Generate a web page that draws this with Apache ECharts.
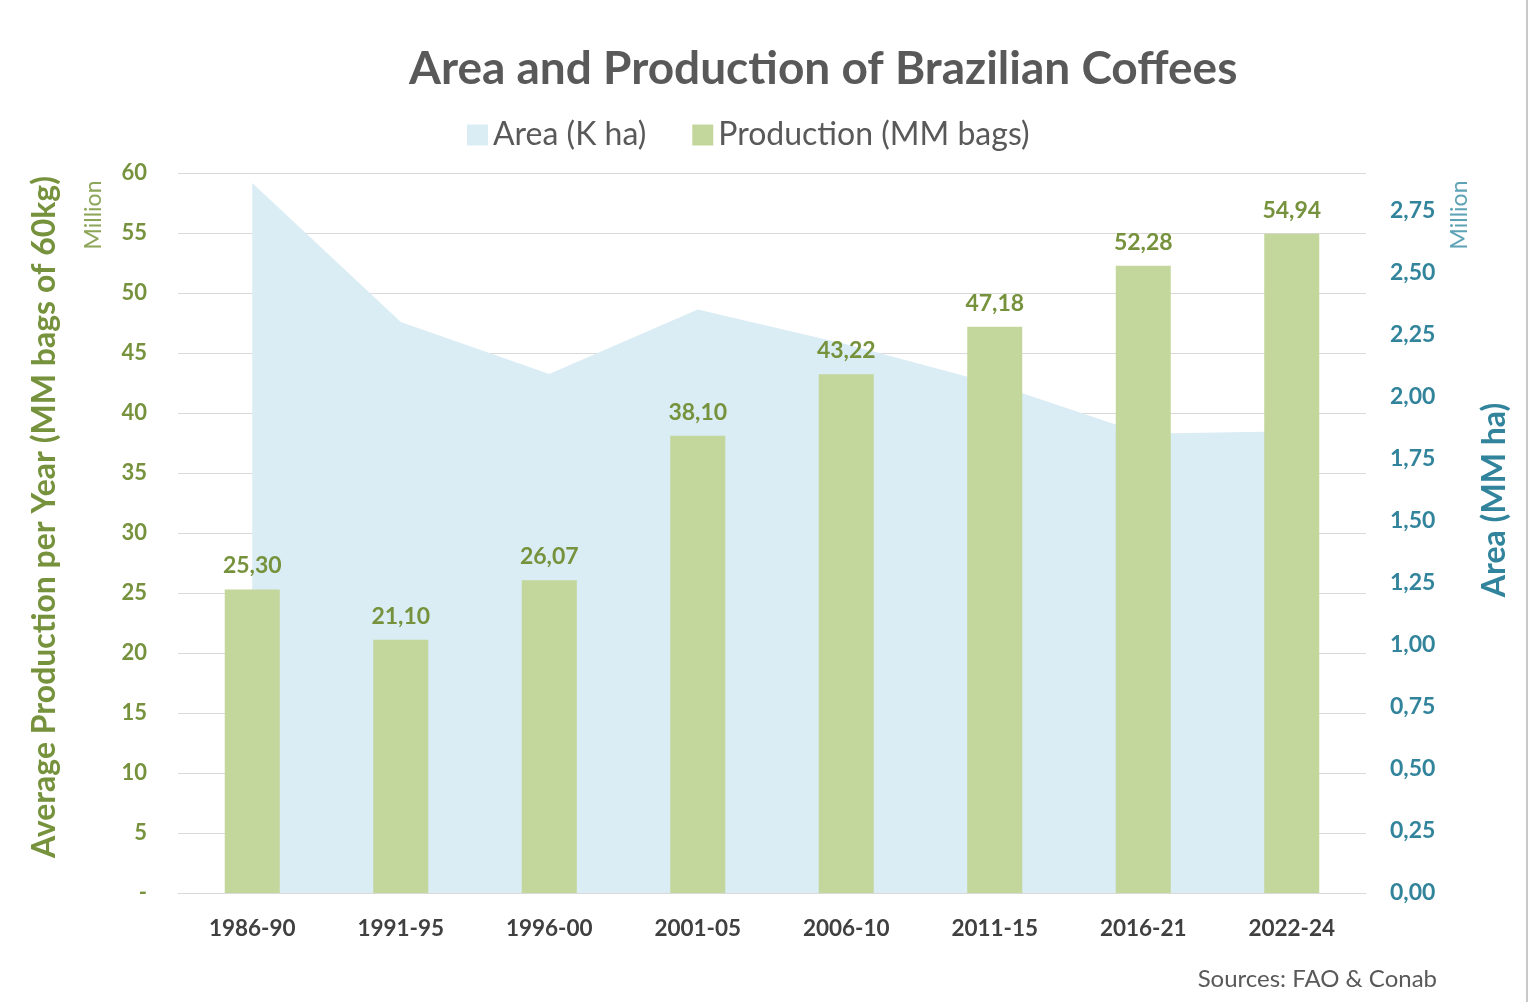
<!DOCTYPE html>
<html>
<head>
<meta charset="utf-8">
<title>Area and Production of Brazilian Coffees</title>
<script src="https://cdn.jsdelivr.net/npm/echarts@6/dist/echarts.min.js"></script>
<style>
  html, body { margin: 0; padding: 0; background: #fff; }
  #chart { width: 1532px; height: 1002px; }
</style>
</head>
<body>
<div id="chart"></div>
<script>
// periods on the x axis
const periods = ['1986-90', '1991-95', '1996-00', '2001-05', '2006-10', '2011-15', '2016-21', '2022-24'];
// average production per year, million 60kg bags
const production = [25.30, 21.10, 26.07, 38.10, 43.22, 47.18, 52.28, 54.94];
// harvested area, million ha
const area = [2.86, 2.30, 2.09, 2.35, 2.21, 2.05, 1.85, 1.86];

const green = '#76923c';
const teal = '#31849b';
const font = 'Lato, "Open Sans", sans-serif';

const chart = echarts.init(document.getElementById('chart'));

// decimal comma, like the original
function comma(v, d) {
  return v.toFixed(d).replace('.', ',');
}

// rotated text, reads bottom to top
function vtext(x, y, text, size, color, weight) {
  return {
    type: 'text',
    x: x,
    y: y,
    rotation: Math.PI / 2,
    style: {
      text: text,
      fill: color,
      font: (weight || 'normal') + ' ' + size + 'px ' + font,
      align: 'center',
      verticalAlign: 'middle'
    }
  };
}

chart.setOption({
  backgroundColor: '#fff',
  textStyle: { fontFamily: font },
  title: {
    text: 'Area and Production of Brazilian Coffees',
    left: 404,
    top: 41,
    textStyle: { fontSize: 46, fontWeight: 'bold', color: '#595959', fontFamily: font }
  },
  legend: {
    top: 114,
    left: 462,
    icon: 'rect',
    itemWidth: 21,
    itemHeight: 21,
    itemGap: 46,
    textStyle: { fontSize: 32, color: '#595959', fontFamily: font },
    data: ['Area (K ha)', 'Production (MM bags)']
  },
  grid: { left: 178, right: 166, top: 173, bottom: 109 },
  xAxis: {
    type: 'category',
    data: periods,
    axisTick: { show: false },
    axisLine: { lineStyle: { color: '#d9d9d9' } },
    axisLabel: { margin: 24, fontSize: 22.5, fontWeight: 'bold', color: '#404040' }
  },
  yAxis: [
    {
      type: 'value',
      min: 0,
      max: 60,
      interval: 5,
      axisLine: { show: false },
      axisTick: { show: false },
      splitLine: { lineStyle: { color: '#d9d9d9' } },
      axisLabel: {
        margin: 31,
        fontSize: 22,
        fontWeight: 'bold',
        color: green,
        formatter: v => (v === 0 ? '-' : v)
      }
    },
    {
      type: 'value',
      min: 0,
      max: 2.9,
      interval: 0.25,
      position: 'right',
      axisLine: { show: false },
      axisTick: { show: false },
      splitLine: { show: false },
      axisLabel: {
        margin: 24,
        fontSize: 23,
        fontWeight: 'bold',
        color: teal,
        showMaxLabel: false,
        formatter: v => (Math.abs(v / 0.25 - Math.round(v / 0.25)) > 1e-6 ? '' : comma(v, 2))
      }
    }
  ],
  series: [
    {
      name: 'Area (K ha)',
      type: 'line',
      yAxisIndex: 1,
      data: area,
      symbol: 'none',
      itemStyle: { color: '#daecf4' },
      lineStyle: { width: 0 },
      areaStyle: { color: '#daecf4', opacity: 1 },
      z: 1
    },
    {
      name: 'Production (MM bags)',
      type: 'bar',
      yAxisIndex: 0,
      data: production,
      barWidth: 55,
      itemStyle: { color: '#c3d69b' },
      label: {
        show: true,
        position: 'top',
        distance: 12,
        fontSize: 23,
        fontWeight: 'bold',
        color: green,
        formatter: p => comma(p.value, 2)
      },
      z: 2
    }
  ],
  graphic: [
    vtext(45, 517, 'Average Production per Year (MM bags of 60kg)', 32, green, 'bold'),
    vtext(1495, 500, 'Area (MM ha)', 32, teal, 'bold'),
    vtext(94, 215, 'Million', 23, '#8ea65a'),
    vtext(1460, 215, 'Million', 23, '#5fa3b6'),
    {
      type: 'text',
      right: 95,
      top: 967,
      style: { text: 'Sources: FAO & Conab', fill: '#595959', font: '24px ' + font }
    },
    {
      type: 'rect',
      shape: { x: 1526, y: 0, width: 2, height: 1002 },
      style: { fill: '#c8c8c8' }
    }
  ]
});
</script>
</body>
</html>
